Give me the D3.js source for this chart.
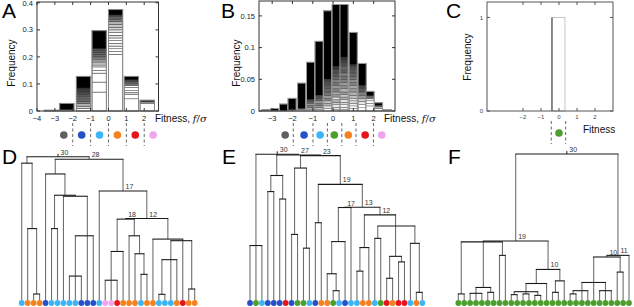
<!DOCTYPE html>
<html><head><meta charset="utf-8">
<script src="https://cdn.jsdelivr.net/npm/d3@7"></script>
<style>body{margin:0;background:#fff}svg{display:block}text{font-family:"Liberation Sans",Arial,Helvetica,sans-serif}</style>
</head><body><svg id="c" width="634" height="307"></svg>
<script>
// ---------------- DATA ----------------
const classColors = {gray:"#606060", dblue:"#2451c9", lblue:"#3bb5f5", green:"#4c9f2d", orange:"#f5821f", red:"#e8141b", pink:"#efa4ee"};

// Panel A histogram
const histA_centers = [-3.2, -2.33, -1.4, -0.52, 0.4, 1.28, 2.17];
const histA_freq    = [0.003, 0.028, 0.128, 0.297, 0.375, 0.128, 0.04];
// stacked layers per bar: [upper frequency, grey level (0 black .. 1 white)]
const histA_layers = [
  [[0.003,0]],
  [[0.004,1],[0.006,0.6],[0.028,0]],
  [[0.01,1],[0.018,0.85],[0.028,0.7],[0.035,0.5],[0.045,0.4],[0.052,0.5],[0.06,0.35],[0.07,0.3],[0.078,0.25],[0.085,0.2],[0.128,0]],
  [[0.07,1],[0.107,1],[0.14,1],[0.15,1],[0.163,1],[0.17,0.95],[0.178,0.85],[0.185,0.8],[0.19,0.75],[0.196,0.7],[0.203,0.5],[0.21,0.45],[0.217,0.4],[0.223,0.35],[0.23,0.3],[0.297,0]],
  [[0.21,1],[0.22,1],[0.23,1],[0.24,1],[0.25,0.95],[0.26,1],[0.27,1],[0.28,0.9],[0.29,1],[0.3,0.9],[0.31,0.85],[0.32,0.8],[0.33,0.7],[0.34,0.5],[0.35,0.4],[0.355,0.3],[0.375,0]],
  [[0.045,1],[0.06,1],[0.068,0.85],[0.075,1],[0.087,1],[0.095,1],[0.1,0.6],[0.108,0.4],[0.115,0.3],[0.128,0]],
  [[0.028,1],[0.033,1],[0.036,0.5],[0.04,0.1]]
];
const histA_barWidth = 0.8;
const ticksA_x = [-4,-3,-2,-1,0,1,2];
const ticksA_y = [0,0.1,0.2,0.3,0.4];
const classesA = ["gray","dblue","lblue","orange","red","pink"];
const classesA_pos = [-2.5,-1.5,-0.5,0.5,1.5,2.5];
const dividersA = [-2,-1,0,1,2];

// Panel B histogram
const histB_centers = [-3.3,-2.88,-2.44,-2.02,-1.55,-1.11,-0.69,-0.27,0.15,0.54,0.99,1.43,1.82,2.24,2.68];
const histB_freq    = [0.002,0.004,0.011,0.020,0.044,0.077,0.110,0.158,0.168,0.168,0.124,0.075,0.031,0.013,0.002];
const histB_layers = [
  [[0.002,0]],
  [[0.004,0]],
  [[0.011,0]],
  [[0.002,0.8],[0.02,0]],
  [[0.002,1],[0.004,0.6],[0.044,0]],
  [[0.003,1],[0.006,0.7],[0.009,0.5],[0.012,0.6],[0.015,0.4],[0.018,0.3],[0.077,0]],
  [[0.003,1],[0.006,0.8],[0.009,0.6],[0.012,0.5],[0.016,0.6],[0.02,0.4],[0.025,0.3],[0.11,0]],
  [[0.004,1],[0.008,0.9],[0.012,0.7],[0.016,0.75],[0.02,0.55],[0.025,0.6],[0.03,0.45],[0.035,0.4],[0.04,0.35],[0.045,0.3],[0.05,0.25],[0.158,0]],
  [[0.003,1],[0.006,1],[0.01,0.9],[0.014,0.8],[0.018,0.7],[0.022,0.9],[0.026,0.6],[0.03,0.7],[0.035,0.5],[0.04,0.6],[0.045,0.45],[0.05,0.5],[0.055,0.4],[0.06,0.35],[0.065,0.3],[0.07,0.2],[0.168,0]],
  [[0.003,1],[0.006,1],[0.01,0.95],[0.014,0.85],[0.018,0.9],[0.022,0.7],[0.026,0.8],[0.03,0.6],[0.035,0.7],[0.04,0.55],[0.045,0.6],[0.05,0.5],[0.055,0.45],[0.06,0.5],[0.065,0.35],[0.07,0.4],[0.075,0.3],[0.08,0.25],[0.085,0.2],[0.168,0]],
  [[0.004,1],[0.008,1],[0.012,0.95],[0.016,0.85],[0.02,0.9],[0.025,0.75],[0.03,0.7],[0.035,0.6],[0.04,0.65],[0.045,0.5],[0.05,0.55],[0.055,0.45],[0.06,0.4],[0.065,0.35],[0.07,0.3],[0.073,0.2],[0.124,0]],
  [[0.005,1],[0.01,1],[0.015,0.9],[0.02,0.8],[0.025,0.6],[0.03,0.5],[0.035,0.35],[0.04,0.25],[0.075,0]],
  [[0.008,1],[0.012,1],[0.016,1],[0.02,0.9],[0.024,0.4],[0.031,0]],
  [[0.004,1],[0.007,0.7],[0.009,0.4],[0.013,0]],
  [[0.002,0.8]]
];
const histB_barWidth = 0.4;
const ticksB_x = [-3,-2,-1,0,1,2];
const ticksB_y = [0,0.05,0.1,0.15];
const classesB = ["gray","dblue","lblue","green","orange","red","pink"];
const classesB_pos = [-2.36,-1.43,-0.64,0.06,0.75,1.58,2.4];
const dividersB = [-1.96,-0.99,-0.28,0.43,1.13,1.99];

// Panel C histogram
const histC_centers = [-0.03];
const histC_freq = [1];
const histC_barWidth = 0.72;
const ticksC_x = [-2,-1,0,1,2];
const ticksC_y = [0,1];
const classesC = ["green"];
const classesC_pos = [0];
const dividersC = [-0.43,0.37];

// Dendrograms: internal node = {h: height (fraction of root), c: children, l: label}; leaf = leaf number
const leavesD = ["lblue","orange","orange","orange","dblue","lblue","lblue","lblue","lblue","lblue","dblue","dblue","dblue","lblue","pink","pink","red","orange","orange","orange","lblue","orange","orange","lblue","lblue","lblue","orange","red","orange","orange"];
const treeD = {h:1, l:"30", c:[
  {h:0.955, c:[1, {h:0.5, c:[2, {h:0.045, c:[3,4]}]}]},
  {h:0.982, l:"28", c:[
    {h:0.88, c:[5, {h:0.732, c:[{h:0.5, c:[6,7]}, {h:0.725, c:[8, {h:0.45, c:[{h:0.17, c:[9,10,11]},12,13]}]}]}]},
    {h:0.761, l:"17", c:[14, {h:0.57, l:"12", c:[
      {h:0.566, l:"18", c:[{h:0.341, c:[{h:0.141, c:[15,16,17]},18]}, {h:0.45, c:[19, {h:0.325, c:[20, {h:0.182, c:[21,22]}]}]}]},
      {h:0.427, c:[23, {h:0.416, c:[{h:0.284, c:[{h:0.043, c:[24,25]},26,27]}, 28, {h:0.08, c:[29,30]}]}]}
    ]}]}
  ]}
]};

const leavesE = ["dblue","green","lblue","dblue","dblue","dblue","red","dblue","green","green","lblue","dblue","orange","orange","green","lblue","dblue","lblue","lblue","orange","orange","lblue","green","red","orange","red","red","lblue","orange","lblue"];
const treeE = {h:1, l:"30", c:[
  {h:0.376, c:[1,2,3]},
  {h:0.9955, l:"27", c:[
    {h:0.855, c:[{h:0.745, c:[4,5]}, {h:0.694, c:[6,7]}]},
    {h:0.991, l:"23", c:[
      {h:0.906, c:[{h:0.452, c:[8,9]}, {h:0.358, c:[10,11]}]},
      {h:0.794, l:"19", c:[
        {h:0.532, c:[12,13]},
        {h:0.638, l:"13", c:[
          {h:0.636, l:"17", c:[{h:0.403, c:[{h:0.183, c:[14, {h:0.067, c:[15,16]}]}, 17]}, 18]},
          {h:0.586, l:"12", c:[
            {h:0.362, c:[{h:0.201, c:[19,20]}, 21]},
            {h:0.51, c:[{h:0.425, c:[22,23]}, {h:0.302, c:[{h:0.152, c:[24,25]}, {h:0.264, c:[26,27]}]}, {h:0.391, c:[28, {h:0.056, c:[29,30]}]}]}
          ]}
        ]}
      ]}
    ]}
  ]}
]};

const leavesF = Array.from({length:30}, () => "green");
const treeF = {h:1, l:"30", c:[
  {h:0.406, l:"19", c:[
    {h:0.4, c:[{h:0.045, c:[1,2]}, {h:0.089, c:[{h:0.049, c:[3,4,5]}, {h:0.056, c:[6,7]}]}, {h:0.308, c:[8,9]}]},
    {h:0.212, l:"10", c:[
      {h:0.116, c:[{h:0.06, c:[{h:0.04, c:[10,11]}, {h:0.045, c:[12,13]}, {h:0.035, c:[14,15]}]}, 16]},
      {h:0.134, c:[{h:0.056, c:[17,18]}, 19]}
    ]}
  ]},
  {h:0.308, l:"11", c:[
    {h:0.297, l:"10", c:[
      {h:0.123, c:[{h:0.067, c:[{h:0.045, c:[20,21]}, 22, 23]}, 24, {h:0.067, c:[25,26,27]}]},
      {h:0.194, c:[28,29]}
    ]},
    30
  ]}
]};

// ---------------- DRAWING ----------------
const svg = d3.select("#c");

function panelLetter(t, x, y){
  svg.append("text").attr("x",x).attr("y",y).attr("font-size",21).attr("fill","#000").text(t);
}

function histogram(o){
  const g = svg.append("g");
  const x = d3.scaleLinear().domain(o.xd).range(o.xr);
  const y = d3.scaleLinear().domain(o.yd).range(o.yr);
  o.centers.forEach((c,i)=>{
    const x0 = x(c - o.bw/2), x1 = x(c + o.bw/2);
    let lo = 0;
    (o.layers ? o.layers[i] : [[o.freq[i],1]]).forEach(([up,gl])=>{
      const v = Math.round(255*gl);
      g.append("rect").attr("x",x0).attr("width",x1-x0)
        .attr("y",y(up)).attr("height",Math.max(0,y(lo)-y(up)))
        .attr("fill",d3.rgb(v,v,v)).attr("stroke","#2a2a2a").attr("stroke-width",o.segStroke);
      lo = up;
    });
    g.append("rect").attr("x",x0).attr("width",x1-x0).attr("y",y(o.freq[i])).attr("height",y(0)-y(o.freq[i]))
      .attr("fill","none").attr("stroke",o.outline).attr("stroke-width",1);
    if (o.leftDark) g.append("line").attr("x1",x0).attr("x2",x0).attr("y1",y(0)).attr("y2",y(o.freq[i])).attr("stroke","#333").attr("stroke-width",1);
  });
  const [L,R] = o.xr, [B,T] = o.yr;
  g.append("rect").attr("x",L).attr("y",T).attr("width",R-L).attr("height",B-T).attr("fill","none").attr("stroke",o.axisColor).attr("stroke-width",1);
  const tl = 3;
  o.tx.forEach(t=>{
    const px = x(t);
    g.append("line").attr("x1",px).attr("x2",px).attr("y1",B).attr("y2",B-tl).attr("stroke",o.axisColor);
    g.append("line").attr("x1",px).attr("x2",px).attr("y1",T).attr("y2",T+tl).attr("stroke",o.axisColor);
    g.append("text").attr("x",px).attr("y",B+o.xlabDy).attr("text-anchor","middle").attr("font-size",o.tickFont).attr("fill",o.tickColor)
      .text(t<0 ? "\u2212"+Math.abs(t) : String(t));
  });
  o.ty.forEach(t=>{
    const py = y(t);
    g.append("line").attr("x1",L).attr("x2",L+tl).attr("y1",py).attr("y2",py).attr("stroke",o.axisColor);
    g.append("line").attr("x1",R).attr("x2",R-tl).attr("y1",py).attr("y2",py).attr("stroke",o.axisColor);
    g.append("text").attr("x",L-4).attr("y",Math.max(py,3.2)).attr("dy","0.35em").attr("text-anchor","end").attr("font-size",o.tickFont).attr("fill",o.tickColor)
      .text(String(t));
  });
  g.append("text").attr("transform",`translate(${o.ylabX},${o.ylabY}) rotate(-90)`).attr("text-anchor","middle")
    .attr("font-size",10).attr("fill","#111").text("Frequency");
  const xl = g.append("text").attr("x",o.xlabX).attr("y",o.xlabY).attr("font-size",10).attr("fill","#111");
  if (o.sigma){
    xl.append("tspan").text("Fitness, ");
    xl.append("tspan").attr("font-style","italic").attr("font-family","'DejaVu Serif',serif").text("f");
    xl.append("tspan").attr("font-family","'DejaVu Serif',serif").text("/");
    xl.append("tspan").attr("font-style","italic").attr("font-family","'DejaVu Serif',serif").text("\u03c3");
  } else xl.text("Fitness");
  o.dividers.forEach(d=>{
    g.append("line").attr("x1",x(d)).attr("x2",x(d)).attr("y1",o.mkY-12).attr("y2",o.mkY+11)
      .attr("stroke","#555").attr("stroke-width",0.9).attr("stroke-dasharray","3,2.5");
  });
  o.classes.forEach((c,i)=>{
    g.append("circle").attr("cx",x(o.classPos[i])).attr("cy",o.mkY).attr("r",3.8).attr("fill",classColors[c]);
  });
}

histogram({xd:[-4,2.8], xr:[37,158.5], yd:[0,0.403], yr:[111,2], centers:histA_centers, freq:histA_freq, layers:histA_layers,
  bw:histA_barWidth, segStroke:0.45, outline:"#8a8a8a", axisColor:"#333", tx:ticksA_x, ty:ticksA_y, tickFont:7.5, tickColor:"#222",
  xlabDy:10, ylabX:15, ylabY:63, xlabX:155, xlabY:122, sigma:true, dividers:dividersA, classes:classesA, classPos:classesA_pos, mkY:135});

histogram({xd:[-3.65,3.05], xr:[259,395], yd:[0,0.1735], yr:[111,1], centers:histB_centers, freq:histB_freq, layers:histB_layers,
  bw:histB_barWidth, segStroke:0.35, outline:"#9a9a9a", axisColor:"#333", tx:ticksB_x, ty:ticksB_y, tickFont:7.5, tickColor:"#222",
  xlabDy:10, ylabX:240, ylabY:63, xlabX:384, xlabY:122, sigma:true, dividers:dividersB, classes:classesB, classPos:classesB_pos, mkY:135});

histogram({xd:[-4,3], xr:[487,613], yd:[0,1.165], yr:[111,2], centers:histC_centers, freq:histC_freq, layers:null,
  bw:histC_barWidth, segStroke:0, outline:"#c4c4c4", leftDark:true, axisColor:"#555", tx:ticksC_x, ty:ticksC_y, tickFont:6, tickColor:"#444",
  xlabDy:7.5, ylabX:471, ylabY:57, xlabX:583, xlabY:133, sigma:false, dividers:dividersC, classes:classesC, classPos:classesC_pos, mkY:133});

panelLetter("A", 2, 18);
panelLetter("B", 221, 18);
panelLetter("C", 446, 18);

function dendrogram(tree, leafColors, xr, rootY){
  const g = svg.append("g");
  const xs = d3.scalePoint().domain(d3.range(1, leafColors.length+1)).range(xr);
  const ys = d3.scaleLinear().domain([0,1]).range([300.5, rootY]);
  function lay(n){
    if (typeof n === "number") return {x: xs(n), h: 0, leaf: n};
    const ch = n.c.map(lay);
    const k = ch.length;
    const x = k % 2 ? ch[(k-1)/2].x : (ch[0].x + ch[k-1].x)/2;
    return {x, h: n.h, l: n.l, ch};
  }
  const root = lay(tree);
  const lines = [], labels = [];
  (function walk(n){
    if (!n.ch) return;
    const xsC = n.ch.map(c=>c.x);
    lines.push({x1:d3.min(xsC), x2:d3.max(xsC), y1:ys(n.h), y2:ys(n.h), hz:true});
    n.ch.forEach(c=>{ lines.push({x1:c.x, x2:c.x, y1:ys(n.h), y2:ys(c.h), hz:false}); walk(c); });
    if (n.l) labels.push({x:n.x, y:ys(n.h), t:n.l});
  })(root);
  g.append("line").attr("x1",root.x).attr("x2",root.x).attr("y1",ys(root.h)).attr("y2",ys(root.h)-3).attr("stroke","#333").attr("stroke-width",1.1);
  g.selectAll("line.v").data(lines.filter(d=>!d.hz)).join("line")
    .attr("x1",d=>d.x1).attr("x2",d=>d.x2).attr("y1",d=>d.y1).attr("y2",d=>d.y2)
    .attr("stroke","#6f6f6f").attr("stroke-width",1.1);
  g.selectAll("line.h").data(lines.filter(d=>d.hz)).join("line")
    .attr("x1",d=>d.x1-0.5).attr("x2",d=>d.x2+0.5).attr("y1",d=>d.y1).attr("y2",d=>d.y2)
    .attr("stroke","#1a1a1a").attr("stroke-width",1.1);
  g.selectAll("text").data(labels).join("text")
    .attr("x",d=>d.x+2.5).attr("y",d=>d.y-2).attr("font-size",7).attr("fill","#333").text(d=>d.t);
  g.selectAll("circle").data(leafColors).join("circle")
    .attr("cx",(d,i)=>xs(i+1)).attr("cy",303).attr("r",2.9).attr("fill",d=>classColors[d]);
}

dendrogram(treeD, leavesD, [21.7, 194.7], 156.7);
dendrogram(treeE, leavesE, [250, 422.3], 154.3);
dendrogram(treeF, leavesF, [458.3, 629], 154);

panelLetter("D", 2, 164);
panelLetter("E", 222, 164);
panelLetter("F", 448, 164);
</script></body></html>
